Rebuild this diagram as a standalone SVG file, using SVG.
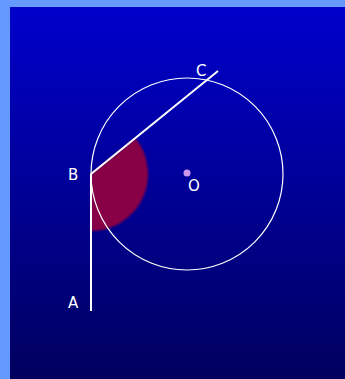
<svg xmlns="http://www.w3.org/2000/svg" width="345" height="379" viewBox="0 0 345 379">
<defs>
<linearGradient id="bg" x1="0" y1="0" x2="0" y2="1">
<stop offset="0" stop-color="#0000cc"/>
<stop offset="1" stop-color="#00005e"/>
</linearGradient>
<filter id="blur" x="-20%" y="-20%" width="140%" height="140%"><feGaussianBlur stdDeviation="1.2"/></filter>
<style>
.ln{stroke:#ffffff;stroke-width:2;fill:none}
.lbl{font-family:"DejaVu Sans",sans-serif;font-size:15px;fill:#ffffff}
</style>
</defs>
<rect width="345" height="379" fill="#6699ff"/>
<rect x="10" y="7" width="335" height="372" fill="url(#bg)"/>
<g id="sector"><path d="M91,174 L135.3,138.1 A57,57 0 0 1 91,231 Z" fill="#880044" filter="url(#blur)"/></g>
<g id="circle"><circle cx="187" cy="174" r="96" fill="none" stroke="#ffffff" stroke-width="1.2"/></g>
<g id="connectors">
<line class="ln" x1="91" y1="311" x2="91" y2="174"/>
<line class="ln" x1="91" y1="174" x2="218" y2="71"/>
</g>
<g id="O"><circle cx="187" cy="173" r="3.5" fill="#cc99ee"/><text class="lbl" x="188" y="191">O</text></g>
<g id="A"><text class="lbl" x="68" y="308">A</text></g>
<g id="B"><text class="lbl" x="68" y="180">B</text></g>
<g id="C"><text class="lbl" x="196" y="76">C</text></g>
</svg>
